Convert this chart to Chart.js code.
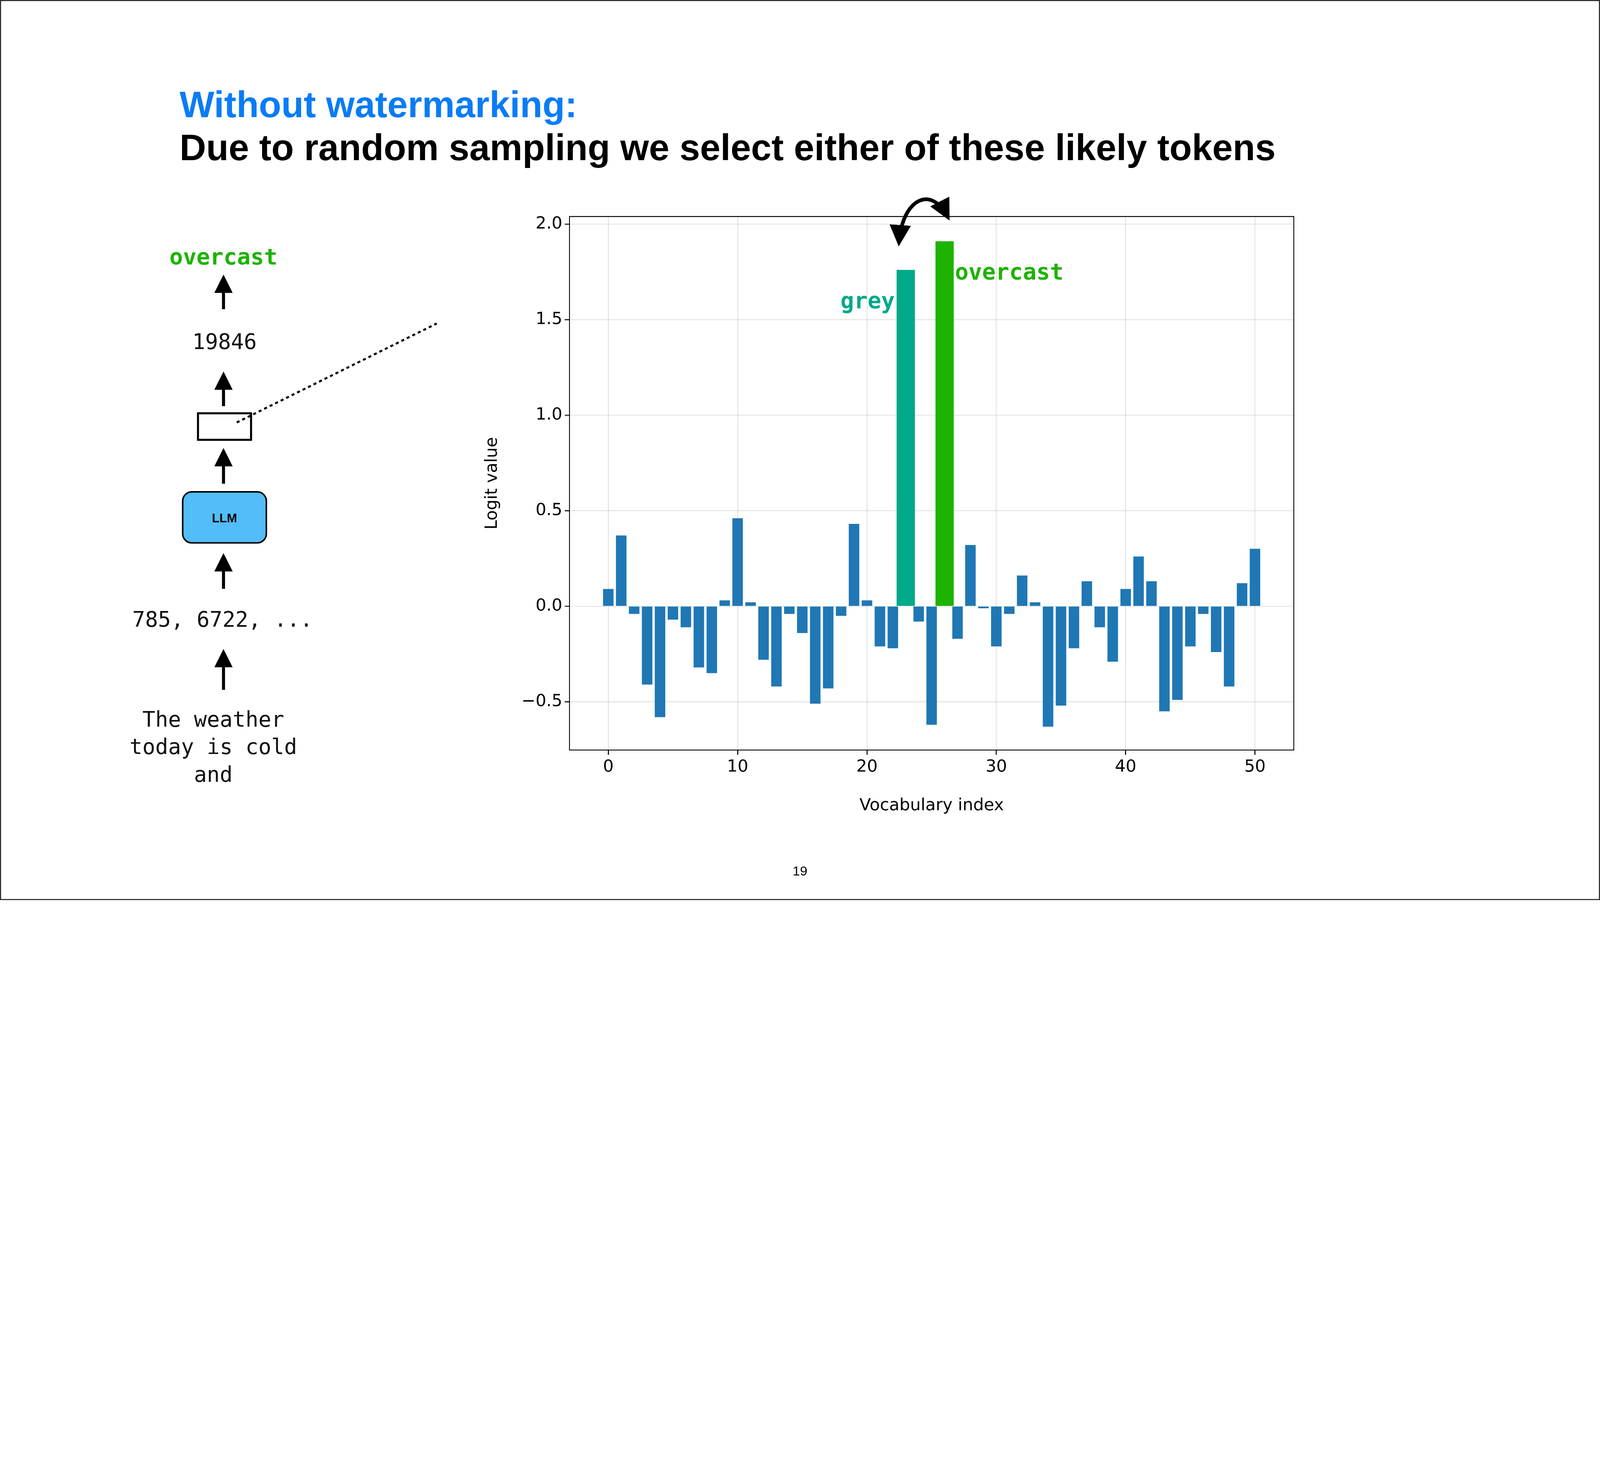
<!DOCTYPE html>
<html lang="en">
<head>
  <meta charset="UTF-8" />
  <title>Without watermarking</title>
  <script src="https://cdn.jsdelivr.net/npm/chart.js"></script>
  <style>
    html, body { margin: 0; background: #fff; overflow: hidden; }
    .slide { position: absolute; left: 0; top: 0; width: 6667px; height: 3750px; overflow: hidden; transform-origin: 0 0; }
    .chart-box { position: absolute; left: 2000px; top: 850px; width: 3450px; height: 2550px; }
    svg.overlay { position: absolute; left: 0; top: 0; pointer-events: none; }
  </style>
</head>
<body>
  <div class="slide" id="slide">
    <div class="chart-box"><canvas id="logitChart"></canvas></div>
    <svg class="overlay" width="6667" height="3750" viewBox="0 0 1568 882">
      <defs>
        <marker id="head" markerWidth="6" markerHeight="6" refX="5" refY="3" orient="auto" markerUnits="strokeWidth">
          <path d="M0,0 L6,3 L0,6 Z" fill="#000"/>
        </marker>
      </defs>
      <rect x="0.5" y="0.5" width="1567" height="881" fill="none" stroke="#222" stroke-width="1"/>
      <text x="176" y="115" font-family="Liberation Sans" font-weight="bold" font-size="36" fill="#0a7cf5">Without watermarking:</text>
      <text x="176" y="157" font-family="Liberation Sans" font-weight="bold" font-size="36" fill="#000">Due to random sampling we select either of these likely tokens</text>

      <g font-family="DejaVu Sans Mono" text-anchor="middle">
        <text x="219" y="259" font-size="22" font-weight="bold" fill="#1db300">overcast</text>
        <text x="220" y="342" font-size="21" fill="#111">19846</text>
        <text x="218" y="614" font-size="21" fill="#111">785, 6722, ...</text>
        <text x="209" y="712" font-size="21" fill="#111">The weather</text>
        <text x="209" y="739" font-size="21" fill="#111">today is cold</text>
        <text x="209" y="766" font-size="21" fill="#111">and</text>
      </g>
      <g stroke="#000" stroke-width="3" marker-end="url(#head)">
        <line x1="219" y1="303" x2="219" y2="272"/>
        <line x1="219" y1="398" x2="219" y2="367"/>
        <line x1="219" y1="474" x2="219" y2="442"/>
        <line x1="219" y1="577" x2="219" y2="545"/>
        <line x1="219" y1="676" x2="219" y2="639"/>
      </g>
      <rect x="194" y="405" width="52" height="26" fill="#fff" stroke="#000" stroke-width="2"/>
      <line x1="232" y1="414" x2="428" y2="317" stroke="#000" stroke-width="2" stroke-dasharray="3,3"/>
      <rect x="179" y="482" width="82" height="50" rx="9" fill="#52bdf8" stroke="#000" stroke-width="1.5"/>
      <text x="220" y="512" font-family="Liberation Sans" font-weight="bold" font-size="12" text-anchor="middle" fill="#000">LLM</text>

      <path d="M 881 238 C 884 196, 912 180, 929 213" fill="none" stroke="#000" stroke-width="3.5" marker-end="url(#head)"/>
      <path d="M 929 213 C 912 180, 884 196, 881 238" fill="none" stroke="#000" stroke-width="3.5" marker-end="url(#head)"/>

      <text x="784" y="858" font-family="Liberation Sans" font-size="13" text-anchor="middle" fill="#000">19</text>
    </svg>
  </div>

  <script>
    // logit per vocabulary index
    const vocabIndex = Array.from({ length: 51 }, (_, i) => i);
    const logits = [
      0.09, 0.37, -0.04, -0.41, -0.58, -0.07, -0.11, -0.32, -0.35, 0.03,
      0.46, 0.02, -0.28, -0.42, -0.04, -0.14, -0.51, -0.43, -0.05, 0.43,
      0.03, -0.21, -0.22, null, -0.08, -0.62, null, -0.17, 0.32, -0.01,
      -0.21, -0.04, 0.16, 0.02, -0.63, -0.52, -0.22, 0.13, -0.11, -0.29,
      0.09, 0.26, 0.13, -0.55, -0.49, -0.21, -0.04, -0.24, -0.42, 0.12,
      0.30
    ];
    const greyIndex = 23, greyLogit = 1.76;
    const overcastIndex = 26, overcastLogit = 1.91;
    const xTicks = [0, 10, 20, 30, 40, 50];
    const yTicks = [-0.5, 0, 0.5, 1.0, 1.5, 2.0];

    // fit the 6667-wide slide to whatever viewport we actually get
    const slide = document.getElementById('slide');
    const fit = () => {
      const s = Math.min(window.innerWidth / 6667, window.innerHeight / 3750);
      slide.style.transform = `scale(${s})`;
    };
    fit();
    window.addEventListener('resize', fit);

    const unit = 12.68 * 4.252; // px per index, used for bar widths

    const labelPlugin = {
      id: 'labels',
      afterDatasetsDraw(chart) {
        const { ctx, chartArea, scales: { x, y } } = chart;
        ctx.save();
        ctx.strokeStyle = '#000';
        ctx.lineWidth = 4;
        ctx.strokeRect(chartArea.left, chartArea.top, chartArea.right - chartArea.left, chartArea.bottom - chartArea.top);
        ctx.font = 'bold 94px "DejaVu Sans Mono"';
        ctx.textBaseline = 'alphabetic';
        ctx.fillStyle = '#00a98a';
        ctx.textAlign = 'right';
        ctx.fillText('grey', x.getPixelForValue(greyIndex) - 0.85 * unit, y.getPixelForValue(greyLogit) + 160);
        ctx.fillStyle = '#1db300';
        ctx.textAlign = 'left';
        ctx.fillText('overcast', x.getPixelForValue(overcastIndex) + 0.8 * unit, y.getPixelForValue(overcastLogit) + 160);
        ctx.restore();
      }
    };

    const tickFont = { family: 'DejaVu Sans', size: 70 };

    new Chart(document.getElementById('logitChart'), {
      type: 'bar',
      data: {
        datasets: [
          {
            data: vocabIndex.map((i) => ({ x: i, y: logits[i] })),
            backgroundColor: '#1f77b4',
            barThickness: 0.8 * unit
          },
          {
            data: [{ x: greyIndex, y: greyLogit }],
            backgroundColor: '#00a98a',
            barThickness: 1.4 * unit
          },
          {
            data: [{ x: overcastIndex, y: overcastLogit }],
            backgroundColor: '#1db300',
            barThickness: 1.4 * unit
          }
        ]
      },
      options: {
        responsive: true,
        maintainAspectRatio: false,
        animation: false,
        grouped: false,
        devicePixelRatio: 1,
        layout: { padding: { top: 34, right: 59 } },
        plugins: { legend: { display: false }, tooltip: { enabled: false } },
        scales: {
          x: {
            type: 'linear',
            min: -3,
            max: 53,
            offset: false,
            afterBuildTicks: (s) => { s.ticks = xTicks.map((v) => ({ value: v })); },
            afterFit: (s) => { s.height = 275; },
            ticks: { color: '#000', font: tickFont, padding: 10, callback: (v) => String(v) },
            grid: { offset: false, color: 'rgba(0,0,0,0.1)', lineWidth: 4, tickColor: '#000', tickLength: 20 },
            border: { display: true, color: '#000', width: 4 },
            title: { display: true, text: 'Vocabulary index', color: '#000', font: tickFont, padding: 0 }
          },
          y: {
            min: -0.753,
            max: 2.04,
            afterBuildTicks: (s) => { s.ticks = yTicks.map((v) => ({ value: v })); },
            afterFit: (s) => { s.width = 373; },
            ticks: {
              color: '#000', font: tickFont, padding: 10,
              callback: (v) => (v < 0 ? '\u2212' : '') + Math.abs(v).toFixed(1)
            },
            grid: { color: 'rgba(0,0,0,0.1)', lineWidth: 4, tickColor: '#000', tickLength: 20 },
            border: { display: true, color: '#000', width: 4 },
            title: { display: true, text: 'Logit value', color: '#000', font: tickFont, padding: 10 }
          }
        }
      },
      plugins: [labelPlugin]
    });
  </script>
</body>
</html>
